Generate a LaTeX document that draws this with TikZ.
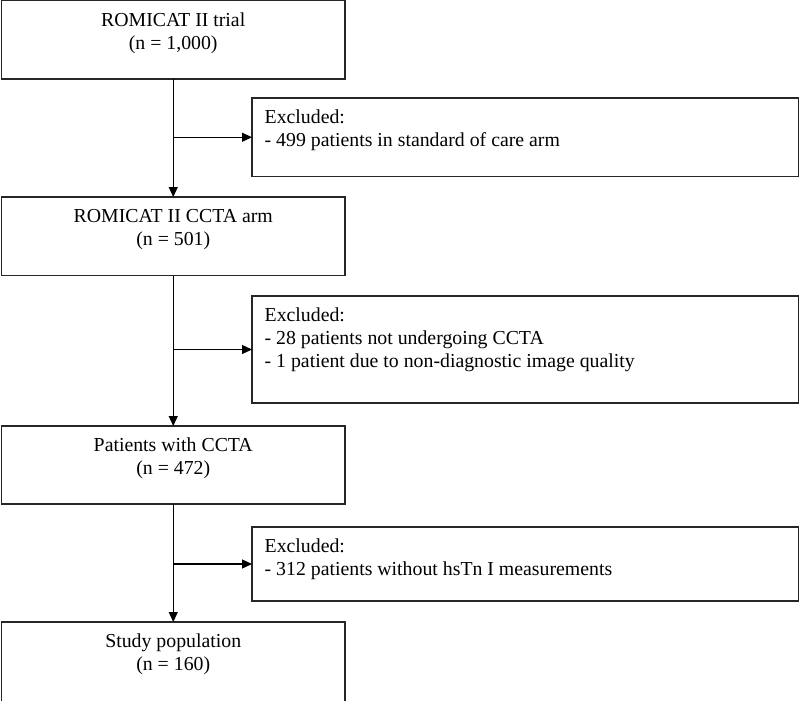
\documentclass[tikz,border=0pt]{standalone}
\usepackage{fontspec}
\setmainfont{Liberation Serif}
\usetikzlibrary{arrows.meta,calc}
\begin{document}
\begin{tikzpicture}[x=1pt,y=-1pt,
  box/.style={draw=black!85, line width=1.2pt, rectangle, inner sep=0pt, outer sep=0pt, anchor=north west},
  ctxt/.style={inner sep=0pt, anchor=north, align=center, font=\fontsize{19.8}{23}\selectfont},
  ltxt/.style={inner sep=0pt, anchor=north west, align=left, font=\fontsize{19.8}{23}\selectfont},
  arr/.style={draw=black, line width=1.2pt, -{Triangle[length=10pt,width=9pt]}},
  plain/.style={draw=black, line width=1.2pt}]
\useasboundingbox (0,0) rectangle (800,701);
\fill[white] (0,0) rectangle (800,701);
% main boxes
\node[box, minimum width=343.5pt, minimum height=78.5pt] (b1) at (1.5,0.5) {};
\node[box, minimum width=343.5pt, minimum height=78.5pt] (b3) at (1.5,197) {};
\node[box, minimum width=343.5pt, minimum height=78pt] (b5) at (1.5,426) {};
\node[box, minimum width=343.5pt, minimum height=80pt] (b7) at (1.5,622) {};
% exclusion boxes
\node[box, minimum width=546.5pt, minimum height=78.5pt] (b2) at (252,98) {};
\node[box, minimum width=546.5pt, minimum height=107pt] (b4) at (252,296) {};
\node[box, minimum width=546.5pt, minimum height=74pt] (b6) at (252,527) {};
% texts
\node[ctxt] (t1) at ($(b1.north)+(0,12)$) {ROMICAT II trial\\(n = 1,000)};
\node[ctxt] (t3) at ($(b3.north)+(0,12)$) {ROMICAT II CCTA arm\\(n = 501)};
\node[ctxt] (t5) at ($(b5.north)+(0,12)$) {Patients with CCTA\\(n = 472)};
\node[ctxt] (t7) at ($(b7.north)+(0,12)$) {Study population\\(n = 160)};
\node[ltxt] (t2) at ($(b2.north west)+(12.5,12)$) {Excluded:\\- 499 patients in standard of care arm};
\node[ltxt] (t4) at ($(b4.north west)+(12.5,12)$) {Excluded:\\- 28 patients not undergoing CCTA\\- 1 patient due to non-diagnostic image quality};
\node[ltxt] (t6) at ($(b6.north west)+(12.5,12)$) {Excluded:\\- 312 patients without hsTn I measurements};
% connectors
\draw[arr] (b1.south) -- (b3.north);
\draw[arr] (b3.south) -- (b5.north);
\draw[arr] (b5.south) -- (b7.north);
\coordinate (j1) at (b1.south |- b2.west);
\coordinate (j2) at (b3.south |- b4.west);
\coordinate (j3) at (b5.south |- b6.west);
\draw[arr] (j1) -- (b2.west);
\draw[arr] (j2) -- (b4.west);
\draw[arr] (j3) -- (b6.west);
\end{tikzpicture}
\end{document}
